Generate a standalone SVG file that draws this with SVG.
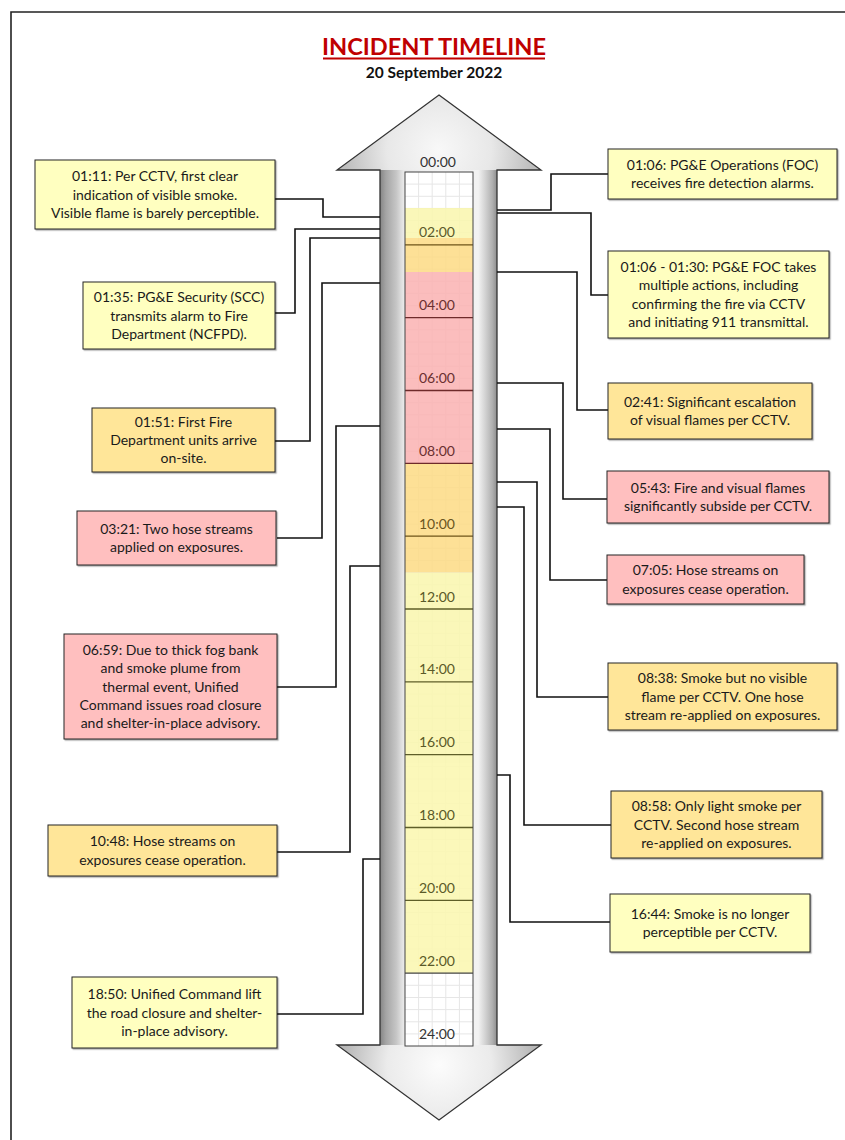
<svg xmlns="http://www.w3.org/2000/svg" width="845" height="1140" viewBox="0 0 845 1140">
<defs>
<linearGradient id="shaft" gradientUnits="userSpaceOnUse" x1="380" y1="0" x2="497" y2="0">
<stop offset="0" stop-color="#858585"/>
<stop offset="0.05" stop-color="#a4a4a4"/>
<stop offset="0.14" stop-color="#c6c6c6"/>
<stop offset="0.2" stop-color="#e8e8e8"/>
<stop offset="0.5" stop-color="#f4f4f4"/>
<stop offset="0.84" stop-color="#f2f2f2"/>
<stop offset="0.9" stop-color="#d2d2d2"/>
<stop offset="0.96" stop-color="#b0b0b0"/>
<stop offset="1" stop-color="#8e8e8e"/>
</linearGradient>
<radialGradient id="headTop" gradientUnits="userSpaceOnUse" cx="439" cy="150" r="95">
<stop offset="0" stop-color="#f8f8f8"/>
<stop offset="0.55" stop-color="#e8e8e8"/>
<stop offset="1" stop-color="#bdbdbd"/>
</radialGradient>
<radialGradient id="headBot" gradientUnits="userSpaceOnUse" cx="439" cy="1065" r="95">
<stop offset="0" stop-color="#fcfcfc"/>
<stop offset="0.55" stop-color="#ebebeb"/>
<stop offset="1" stop-color="#b8b8b8"/>
</radialGradient>
<filter id="sh" x="-5%" y="-5%" width="115%" height="125%">
<feDropShadow dx="1.2" dy="1.2" stdDeviation="0.6" flood-color="#000" flood-opacity="0.35"/>
</filter>
</defs>
<style>
.box{stroke:#262626;stroke-width:1;filter:url(#sh)}
.y{fill:#FFFFC0}.o{fill:#FFE699}.p{fill:#FFBFBF}
.t{font-family:Lato,"Liberation Sans",sans-serif;font-size:14px;fill:#1a1a1a;text-anchor:middle}
.c{fill:none;stroke:#111;stroke-width:1.6}
.tl{font-family:Lato,"Liberation Sans",sans-serif;font-size:14px;text-anchor:middle}
.g{stroke:#e6e6e6;stroke-width:1}
.dv{stroke-width:1.3}
</style>

<path d="M11,1140 V12 H845" fill="none" stroke="#222" stroke-width="1.6"/>

<g id="title">
<text x="434" y="55" font-family="Lato,'Liberation Sans',sans-serif" font-weight="bold" font-size="23.6" fill="#C00000" text-anchor="middle">INCIDENT TIMELINE</text>
<line x1="323" y1="58.5" x2="545" y2="58.5" stroke="#C00000" stroke-width="2"/>
<text x="434" y="78" font-family="Lato,'Liberation Sans',sans-serif" font-weight="bold" font-size="15.5" fill="#111" text-anchor="middle">20 September 2022</text>
</g>

<g id="arrow">
<polygon points="337,170 439,95 541,170" fill="url(#headTop)"/>
<rect x="380" y="170" width="117" height="875" fill="url(#shaft)"/>
<polygon points="337,1045 541,1045 439,1120" fill="url(#headBot)"/>
<path d="M439,95 L541,170 L497,170 L497,1045 L541,1045 L439,1120 L337,1045 L380,1045 L380,170 L337,170 Z" fill="none" stroke="#333" stroke-width="1.3"/>
</g>

<g id="timebar">
<rect x="405" y="172" width="68" height="874" fill="#fff"/>
<g class="g">
<line x1="418.6" y1="172" x2="418.6" y2="1046"/>
<line x1="432.2" y1="172" x2="432.2" y2="1046"/>
<line x1="445.8" y1="172" x2="445.8" y2="1046"/>
<line x1="459.4" y1="172" x2="459.4" y2="1046"/>
<path d="M405,184.1H473M405,196.3H473M405,208.4H473M405,220.6H473M405,232.7H473M405,257H473M405,269.1H473M405,281.3H473M405,293.4H473M405,305.6H473M405,329.8H473M405,342H473M405,354.1H473M405,366.3H473M405,378.4H473M405,402.7H473M405,414.8H473M405,427H473M405,439.1H473M405,451.3H473M405,475.5H473M405,487.6H473M405,499.8H473M405,511.9H473M405,524.1H473M405,548.3H473M405,560.5H473M405,572.6H473M405,584.8H473M405,596.9H473M405,621.2H473M405,633.3H473M405,645.5H473M405,657.6H473M405,669.8H473M405,694H473M405,706.1H473M405,718.3H473M405,730.4H473M405,742.6H473M405,766.8H473M405,779H473M405,791.1H473M405,803.3H473M405,815.4H473M405,839.7H473M405,851.8H473M405,864H473M405,876.1H473M405,888.3H473M405,912.5H473M405,924.6H473M405,936.8H473M405,948.9H473M405,961.1H473M405,985.3H473M405,997.5H473M405,1009.6H473M405,1021.8H473M405,1033.9H473"/>
</g>
<g opacity="0.88">
<rect x="405" y="208" width="68" height="30" fill="#FAF7B0"/>
<rect x="405" y="238" width="68" height="34" fill="#FDDC88"/>
<rect x="405" y="272" width="68" height="191.3" fill="#FBB4B4"/>
<rect x="405" y="463.3" width="68" height="109.3" fill="#FDDC88"/>
<rect x="405" y="572.6" width="68" height="400.6" fill="#FAF7B0"/>
</g>
<g class="dv">
<line x1="405" y1="244.8" x2="473" y2="244.8" stroke="#6e5518"/>
<line x1="405" y1="317.7" x2="473" y2="317.7" stroke="#6e2a2a"/>
<line x1="405" y1="390.5" x2="473" y2="390.5" stroke="#6e2a2a"/>
<line x1="405" y1="463.3" x2="473" y2="463.3" stroke="#6e2a2a"/>
<line x1="405" y1="536.2" x2="473" y2="536.2" stroke="#6e5518"/>
<line x1="405" y1="609" x2="473" y2="609" stroke="#5e5e28"/>
<line x1="405" y1="681.8" x2="473" y2="681.8" stroke="#5e5e28"/>
<line x1="405" y1="754.7" x2="473" y2="754.7" stroke="#5e5e28"/>
<line x1="405" y1="827.5" x2="473" y2="827.5" stroke="#5e5e28"/>
<line x1="405" y1="900.3" x2="473" y2="900.3" stroke="#5e5e28"/>
<line x1="405" y1="973.2" x2="473" y2="973.2" stroke="#444"/>
</g>
<rect x="405" y="172" width="68" height="874" fill="none" stroke="#444" stroke-width="1"/>
<g class="tl">
<text x="438" y="167" fill="#333">00:00</text>
<text x="437" y="237.3" fill="#5c5a2a">02:00</text>
<text x="437" y="310.2" fill="#6a3030">04:00</text>
<text x="437" y="383" fill="#6a3030">06:00</text>
<text x="437" y="455.8" fill="#6a3030">08:00</text>
<text x="437" y="528.7" fill="#6a5520">10:00</text>
<text x="437" y="601.5" fill="#5a5a28">12:00</text>
<text x="437" y="674.3" fill="#5a5a28">14:00</text>
<text x="437" y="747.2" fill="#5a5a28">16:00</text>
<text x="437" y="820" fill="#5a5a28">18:00</text>
<text x="437" y="892.8" fill="#5a5a28">20:00</text>
<text x="437" y="965.7" fill="#5a5a28">22:00</text>
<text x="437" y="1039" fill="#333">24:00</text>
</g>
</g>

<g id="connectors" class="c">
<path d="M275,199 H323 V217 H380"/>
<path d="M275,313 H295 V229 H380"/>
<path d="M275,441 H310 V238 H380"/>
<path d="M277,538 H322 V283 H380"/>
<path d="M277,687 H336 V426 H380"/>
<path d="M277,852 H350 V566 H380"/>
<path d="M277,1014 H363 V859 H380"/>
<path d="M608,174 H551 V210 H497"/>
<path d="M608,295 H591 V213 H497"/>
<path d="M608,410 H577 V272 H497"/>
<path d="M607,499 H563 V383 H497"/>
<path d="M607,580 H550 V429 H497"/>
<path d="M608,697 H537 V482 H497"/>
<path d="M611,825 H524 V507 H497"/>
<path d="M610,922 H510 V775 H497"/>
</g>

<g id="ev-0111">
<rect class="box y" x="35" y="160" width="240" height="69"/>
<text class="t" x="155" y="181.2">01:11: Per CCTV, first clear</text>
<text class="t" x="155" y="199.5">indication of visible smoke.</text>
<text class="t" x="155" y="217.8">Visible flame is barely perceptible.</text>
</g>
<g id="ev-0135">
<rect class="box y" x="83" y="282" width="192" height="67"/>
<text class="t" x="179" y="302.2">01:35: PG&amp;E Security (SCC)</text>
<text class="t" x="179" y="320.5">transmits alarm to Fire</text>
<text class="t" x="179" y="338.8">Department (NCFPD).</text>
</g>
<g id="ev-0151">
<rect class="box o" x="92" y="408" width="183" height="64"/>
<text class="t" x="183.5" y="426.7">01:51: First Fire</text>
<text class="t" x="183.5" y="445">Department units arrive</text>
<text class="t" x="183.5" y="463.3">on-site.</text>
</g>
<g id="ev-0321">
<rect class="box p" x="77" y="511" width="199" height="54"/>
<text class="t" x="176.5" y="533.9">03:21: Two hose streams</text>
<text class="t" x="176.5" y="552.2">applied on exposures.</text>
</g>
<g id="ev-0659">
<rect class="box p" x="64" y="634" width="213" height="105"/>
<text class="t" x="170.5" y="654.9">06:59: Due to thick fog bank</text>
<text class="t" x="170.5" y="673.2">and smoke plume from</text>
<text class="t" x="170.5" y="691.5">thermal event, Unified</text>
<text class="t" x="170.5" y="709.8">Command issues road closure</text>
<text class="t" x="170.5" y="728.1">and shelter-in-place advisory.</text>
</g>
<g id="ev-1048">
<rect class="box o" x="48" y="825" width="229" height="51"/>
<text class="t" x="162.5" y="846.4">10:48: Hose streams on</text>
<text class="t" x="162.5" y="864.7">exposures cease operation.</text>
</g>
<g id="ev-1850">
<rect class="box y" x="72" y="977" width="205" height="71"/>
<text class="t" x="174.5" y="999.2">18:50: Unified Command lift</text>
<text class="t" x="174.5" y="1017.5">the road closure and shelter-</text>
<text class="t" x="174.5" y="1035.8">in-place advisory.</text>
</g>

<g id="ev-0106">
<rect class="box y" x="608" y="149" width="229" height="50"/>
<text class="t" x="722.5" y="169.9">01:06: PG&amp;E Operations (FOC)</text>
<text class="t" x="722.5" y="188.2">receives fire detection alarms.</text>
</g>
<g id="ev-0106-0130">
<rect class="box y" x="608" y="251" width="221" height="87"/>
<text class="t" x="718.5" y="272">01:06 - 01:30: PG&amp;E FOC takes</text>
<text class="t" x="718.5" y="290.3">multiple actions, including</text>
<text class="t" x="718.5" y="308.6">confirming the fire via CCTV</text>
<text class="t" x="718.5" y="326.9">and initiating 911 transmittal.</text>
</g>
<g id="ev-0241">
<rect class="box o" x="608" y="383" width="204" height="56"/>
<text class="t" x="710" y="406.9">02:41: Significant escalation</text>
<text class="t" x="710" y="425.2">of visual flames per CCTV.</text>
</g>
<g id="ev-0543">
<rect class="box p" x="607" y="471" width="222" height="52"/>
<text class="t" x="718" y="492.9">05:43: Fire and visual flames</text>
<text class="t" x="718" y="511.2">significantly subside per CCTV.</text>
</g>
<g id="ev-0705">
<rect class="box p" x="607" y="555" width="197" height="49"/>
<text class="t" x="705.5" y="575.4">07:05: Hose streams on</text>
<text class="t" x="705.5" y="593.7">exposures cease operation.</text>
</g>
<g id="ev-0838">
<rect class="box o" x="608" y="663" width="229" height="67"/>
<text class="t" x="722.5" y="683.2">08:38: Smoke but no visible</text>
<text class="t" x="722.5" y="701.5">flame per CCTV. One hose</text>
<text class="t" x="722.5" y="719.8">stream re-applied on exposures.</text>
</g>
<g id="ev-0858">
<rect class="box o" x="611" y="791" width="211" height="67"/>
<text class="t" x="716.5" y="811.2">08:58: Only light smoke per</text>
<text class="t" x="716.5" y="829.5">CCTV. Second hose stream</text>
<text class="t" x="716.5" y="847.8">re-applied on exposures.</text>
</g>
<g id="ev-1644">
<rect class="box y" x="610" y="894" width="200" height="58"/>
<text class="t" x="710" y="918.9">16:44: Smoke is no longer</text>
<text class="t" x="710" y="937.2">perceptible per CCTV.</text>
</g>
</svg>
